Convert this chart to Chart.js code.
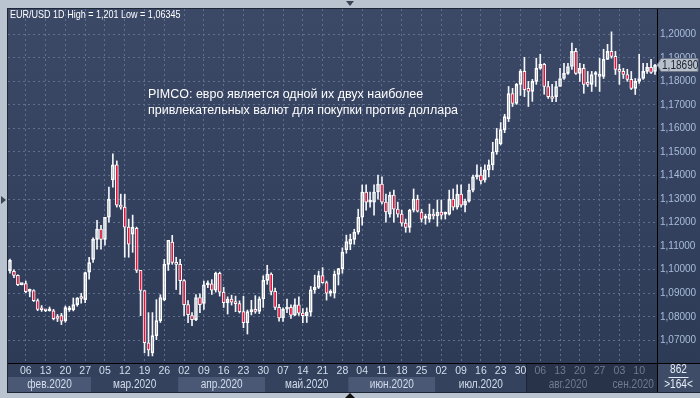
<!DOCTYPE html>
<html><head><meta charset="utf-8">
<script src="https://cdn.jsdelivr.net/npm/chart.js@4.4.0/dist/chart.umd.min.js"></script>
<style>html,body{margin:0;padding:0;background:#b9c4d0;overflow:hidden}</style>
</head><body><canvas id="c" width="700" height="398"></canvas>
<script>
// ---- data ----
const categories = [
"01-31","02-03","02-04","02-05","02-06","02-07","02-10","02-11","02-12","02-13","02-14","02-17","02-18","02-19","02-20","02-21","02-24","02-25","02-26","02-27","02-28",
"03-02","03-03","03-04","03-05","03-06","03-09","03-10","03-11","03-12","03-13","03-16","03-17","03-18","03-19","03-20","03-23","03-24","03-25","03-26","03-27","03-30","03-31",
"04-01","04-02","04-03","04-06","04-07","04-08","04-09","04-10","04-13","04-14","04-15","04-16","04-17","04-20","04-21","04-22","04-23","04-24","04-27","04-28","04-29","04-30",
"05-01","05-04","05-05","05-06","05-07","05-08","05-11","05-12","05-13","05-14","05-15","05-18","05-19","05-20","05-21","05-22","05-25","05-26","05-27","05-28","05-29",
"06-01","06-02","06-03","06-04","06-05","06-08","06-09","06-10","06-11","06-12","06-15","06-16","06-17","06-18","06-19","06-22","06-23","06-24","06-25","06-26","06-29","06-30",
"07-01","07-02","07-03","07-06","07-07","07-08","07-09","07-10","07-13","07-14","07-15","07-16","07-17","07-20","07-21","07-22","07-23","07-24","07-27","07-28","07-29","07-30","07-31",
"08-03","08-04","08-05","08-06","08-07","08-10","08-11","08-12","08-13","08-14","08-17","08-18","08-19","08-20","08-21","08-24","08-25","08-26","08-27","08-28","08-31",
"09-01","09-02","09-03","09-04","09-07","09-08","09-09","09-10","09-11","09-14","09-15","09-16"];

const open = [
1.0995,1.0993,1.0976,1.0937,1.0941,1.0908,1.0912,1.0869,1.0831,1.0830,1.0826,1.0826,1.0800,1.0805,1.0784,1.0830,1.0830,1.0852,1.0880,1.0873,1.0990,
1.1044,1.1129,1.1173,1.1129,1.1223,1.1381,1.1445,1.1274,1.1266,1.1181,1.1151,1.1176,1.0997,1.0912,1.0690,1.0647,1.0720,1.0784,1.0873,1.1023,1.1117,1.1031,
1.1023,1.0954,1.0852,1.0805,1.0788,1.0882,1.0857,1.0936,1.0940,1.0913,1.0985,1.0905,1.0860,1.0875,1.0862,1.0856,1.0822,1.0775,1.0822,1.0827,1.0823,1.0876,
1.0955,1.0982,1.0908,1.0840,1.0795,1.0833,1.0840,1.0807,1.0851,1.0816,1.0805,1.0820,1.0915,1.0925,1.0975,1.0945,1.0900,1.0900,1.0980,1.1005,1.1085,
1.1108,1.1129,1.1159,1.1223,1.1330,1.1287,1.1287,1.1330,1.1364,1.1287,1.1236,1.1317,1.1257,1.1236,1.1198,1.1180,1.1253,1.1300,1.1245,1.1219,1.1215,1.1236,
1.1228,1.1245,1.1236,1.1236,1.1300,1.1266,1.1321,1.1274,1.1291,1.1338,1.1394,1.1402,1.1381,1.1424,1.1445,1.1500,1.1535,1.1595,1.1641,1.1748,1.1706,1.1787,1.1842,
1.1770,1.1757,1.1800,1.1855,1.1872,1.1778,1.1735,1.1735,1.1778,1.1812,1.1834,1.1863,1.1927,1.1834,1.1855,1.1791,1.1787,1.1829,1.1821,1.1821,1.1893,
1.1927,1.1906,1.1851,1.1842,1.1829,1.1808,1.1770,1.1800,1.1812,1.1842,1.1859,1.1842];
const high = [
1.1045,1.1000,1.0978,1.0940,1.0952,1.0918,1.0915,1.0876,1.0848,1.0832,1.0842,1.0832,1.0810,1.0815,1.0846,1.0845,1.0880,1.0882,1.0900,1.0990,1.1053,
1.1135,1.1210,1.1189,1.1223,1.1351,1.1492,1.1462,1.1321,1.1321,1.1215,1.1232,1.1181,1.0997,1.0912,1.0818,1.0818,1.0873,1.0894,1.1044,1.1125,1.1146,1.1053,
1.1044,1.0958,1.0869,1.0818,1.0894,1.0898,1.0952,1.0953,1.0958,1.0990,1.0990,1.0925,1.0885,1.0892,1.0888,1.0868,1.0887,1.0829,1.0870,1.0890,1.0885,1.0974,
1.1019,1.0987,1.0922,1.0853,1.0838,1.0875,1.0851,1.0876,1.0885,1.0835,1.0838,1.0929,1.0977,1.0994,1.1009,1.0952,1.0915,1.0995,1.1006,1.1093,1.1147,
1.1151,1.1172,1.1257,1.1360,1.1360,1.1330,1.1360,1.1402,1.1394,1.1321,1.1330,1.1338,1.1287,1.1253,1.1215,1.1257,1.1343,1.1317,1.1257,1.1236,1.1279,1.1257,
1.1296,1.1296,1.1245,1.1338,1.1343,1.1360,1.1360,1.1300,1.1364,1.1402,1.1445,1.1436,1.1445,1.1466,1.1541,1.1600,1.1625,1.1660,1.1778,1.1770,1.1791,1.1850,1.1902,
1.1800,1.1808,1.1898,1.1915,1.1876,1.1800,1.1787,1.1800,1.1855,1.1876,1.1876,1.1962,1.1940,1.1876,1.1872,1.1842,1.1842,1.1842,1.1898,1.1936,1.1957,
1.2010,1.1927,1.1872,1.1855,1.1851,1.1842,1.1812,1.1915,1.1876,1.1876,1.1893,1.1872];
const low = [
1.0985,1.0966,1.0932,1.0935,1.0902,1.0885,1.0865,1.0826,1.0823,1.0822,1.0824,1.0787,1.0780,1.0767,1.0777,1.0823,1.0825,1.0845,1.0858,1.0860,1.0960,
1.1031,1.1087,1.1087,1.1104,1.1202,1.1351,1.1266,1.1257,1.1053,1.1053,1.1074,1.0988,1.0805,1.0647,1.0634,1.0634,1.0703,1.0776,1.0868,1.0997,1.1023,1.0916,
1.0895,1.0805,1.0775,1.0762,1.0784,1.0818,1.0832,1.0924,1.0895,1.0905,1.0888,1.0840,1.0812,1.0850,1.0822,1.0816,1.0754,1.0727,1.0808,1.0815,1.0814,1.0840,
1.0938,1.0893,1.0830,1.0782,1.0781,1.0818,1.0793,1.0805,1.0806,1.0775,1.0776,1.0803,1.0900,1.0920,1.0942,1.0871,1.0888,1.0880,1.0935,1.0985,1.1070,
1.1085,1.1108,1.1151,1.1189,1.1253,1.1266,1.1232,1.1300,1.1279,1.1202,1.1223,1.1202,1.1223,1.1185,1.1159,1.1159,1.1245,1.1245,1.1202,1.1193,1.1202,1.1215,
1.1185,1.1215,1.1215,1.1232,1.1253,1.1257,1.1266,1.1245,1.1287,1.1330,1.1385,1.1364,1.1372,1.1394,1.1424,1.1490,1.1530,1.1582,1.1629,1.1693,1.1702,1.1740,1.1735,
1.1693,1.1715,1.1787,1.1851,1.1745,1.1727,1.1714,1.1714,1.1778,1.1808,1.1829,1.1851,1.1829,1.1800,1.1749,1.1778,1.1757,1.1778,1.1757,1.1812,1.1893,
1.1898,1.1829,1.1787,1.1812,1.1800,1.1765,1.1744,1.1791,1.1808,1.1833,1.1833,1.1829];
const close = [
1.1040,1.0976,1.0937,1.0937,1.0907,1.0912,1.0869,1.0831,1.0830,1.0826,1.0830,1.0792,1.0793,1.0782,1.0839,1.0832,1.0852,1.0880,1.0878,1.0988,1.1030,
1.1129,1.1173,1.1129,1.1223,1.1300,1.1445,1.1274,1.1266,1.1181,1.1108,1.1181,1.0997,1.0912,1.0690,1.0660,1.0720,1.0784,1.0882,1.1023,1.1125,1.1031,1.1023,
1.0954,1.0852,1.0809,1.0788,1.0882,1.0852,1.0936,1.0940,1.0913,1.0985,1.0905,1.0860,1.0875,1.0862,1.0856,1.0822,1.0775,1.0822,1.0827,1.0823,1.0876,1.0955,
1.0982,1.0908,1.0840,1.0795,1.0833,1.0840,1.0807,1.0851,1.0816,1.0805,1.0820,1.0915,1.0925,1.0975,1.0945,1.0900,1.0900,1.0980,1.1005,1.1075,1.1120,
1.1129,1.1159,1.1223,1.1330,1.1287,1.1290,1.1330,1.1364,1.1287,1.1245,1.1317,1.1257,1.1236,1.1198,1.1180,1.1253,1.1300,1.1249,1.1215,1.1219,1.1236,1.1228,
1.1245,1.1232,1.1236,1.1300,1.1266,1.1321,1.1274,1.1291,1.1338,1.1394,1.1402,1.1377,1.1424,1.1445,1.1500,1.1556,1.1595,1.1650,1.1748,1.1706,1.1787,1.1842,1.1765,
1.1757,1.1800,1.1855,1.1872,1.1778,1.1735,1.1727,1.1778,1.1812,1.1834,1.1863,1.1927,1.1834,1.1855,1.1787,1.1787,1.1829,1.1830,1.1829,1.1893,1.1927,
1.1906,1.1851,1.1842,1.1829,1.1808,1.1770,1.1800,1.1812,1.1842,1.1859,1.1838,1.1869];

const yTicks = [1.07,1.08,1.09,1.10,1.11,1.12,1.13,1.14,1.15,1.16,1.17,1.18,1.19,1.20];
const weekTicks = ["02-06","02-13","02-20","02-27","03-05","03-12","03-19","03-26","04-02","04-09","04-16","04-23","04-30",
"05-07","05-14","05-21","05-28","06-04","06-11","06-18","06-25","07-02","07-09","07-16","07-23","07-30","08-06","08-13","08-20","08-27","09-03","09-10"];
const months = [["02","фев.2020"],["03","мар.2020"],["04","апр.2020"],["05","май.2020"],["06","июн.2020"],["07","июл.2020"],["08","авг.2020"],["09","сен.2020"]];
const dimFrom = "08-03";
const titleText = "EUR/USD 1D High = 1,201 Low = 1,06345";
const noteLines = ["PIMCO: евро является одной их двух наиболее","привлекательных валют для покупки против доллара"];
const lastPrice = 1.18690;
const barsInfo = ["862", ">164<"];
const yMin = 1.0604, yMax = 1.2107;

// ---- styling ----
const SANS = '"Liberation Sans",Arial,sans-serif';
const RED = '#e3143c';
const dimIndex = categories.indexOf(dimFrom);
const isWeek = i => weekTicks.includes(categories[i]);

const bodies = categories.map((_, i) => [Math.min(open[i], close[i]), Math.max(open[i], close[i])]);
const upWick = categories.map((_, i) => [Math.max(open[i], close[i]), high[i]]);
const loWick = categories.map((_, i) => [low[i], Math.min(open[i], close[i])]);

function narrowText(ctx, txt, x, y, align, size, k) {
  ctx.save();
  ctx.font = size + 'px ' + SANS;
  ctx.textBaseline = 'middle';
  ctx.textAlign = 'left';
  k = k || 0.84;
  const w = ctx.measureText(txt).width * k;
  let x0 = x;
  if (align === 'center') x0 = x - w / 2;
  if (align === 'right') x0 = x - w;
  ctx.translate(x0, y);
  ctx.scale(k, 1);
  ctx.fillText(txt, 0, 0);
  ctx.restore();
}

const deco = {
  id: 'deco',
  beforeDraw(chart) {
    const {ctx, chartArea: a, scales: {x}} = chart;
    const W = chart.width, H = chart.height;
    ctx.save();
    ctx.fillStyle = '#b9c4d0'; ctx.fillRect(0, 0, W, H);
    const g = ctx.createLinearGradient(0, a.top, 0, a.bottom);
    g.addColorStop(0, '#3b4967'); g.addColorStop(1, '#2d3b57');
    ctx.fillStyle = g; ctx.fillRect(a.left, a.top, W - a.left, a.bottom - a.top);
    ctx.fillStyle = '#33415d'; ctx.fillRect(a.left, a.bottom, W - a.left, 29);
    const step = x.getPixelForValue(1) - x.getPixelForValue(0);
    const mid = a.bottom + 14;
    months.forEach(([m], k) => {
      const idx = categories.map((c, i) => c.startsWith(m) ? i : -1).filter(i => i >= 0);
      let l = x.getPixelForValue(idx[0]) - step / 2, r = x.getPixelForValue(idx[idx.length - 1]) + step / 2;
      if (k === 0) l = a.left;
      ctx.fillStyle = k % 2 === 0 ? '#4a5875' : '#34425e';
      ctx.fillRect(l, mid, r - l, 15);
    });
    const dl = x.getPixelForValue(dimIndex) - step / 2;
    ctx.fillStyle = '#28334a'; ctx.fillRect(dl, a.bottom, a.right - dl, 29);
    ctx.fillStyle = '#1c2536'; ctx.fillRect(Math.round(dl), a.bottom, 1, 29);
    ctx.fillStyle = '#3e4c68'; ctx.fillRect(a.right, a.bottom, W - a.right, 29);
    ctx.restore();
  },
  afterDraw(chart) {
    const {ctx, chartArea: a, scales: {x, y}} = chart;
    const W = chart.width;
    ctx.save();
    ctx.fillStyle = '#000';
    ctx.fillRect(a.right, a.top, 1, a.bottom - a.top + 29);
    ctx.fillRect(a.left, a.bottom, W - a.left, 1);
    ctx.fillStyle = '#1d2737';
    ctx.fillRect(a.left - 1, a.top - 1, W - a.left + 1, 1);
    ctx.fillRect(a.left - 1, a.top - 1, 1, a.bottom - a.top + 31);
    ctx.fillRect(a.left - 1, a.bottom + 29, W - a.left + 1, 1);
    const step = x.getPixelForValue(1) - x.getPixelForValue(0);
    months.forEach(([m, name], k) => {
      const idx = categories.map((c, i) => c.startsWith(m) ? i : -1).filter(i => i >= 0);
      let l = x.getPixelForValue(idx[0]) - step / 2, r = x.getPixelForValue(idx[idx.length - 1]) + step / 2;
      if (k === 0) l = a.left;
      ctx.fillStyle = idx[0] >= dimIndex ? '#6e7b91' : '#d3ddeb';
      narrowText(ctx, name, (l + r) / 2, a.bottom + 22, 'center', 12);
    });
    ctx.fillStyle = '#e6ecf5';
    const bx = (a.right + W) / 2;
    narrowText(ctx, barsInfo[0], bx, a.bottom + 7, 'center', 12);
    ctx.fillRect(bx - 10, a.bottom + 14, 20, 1);
    narrowText(ctx, barsInfo[1], bx, a.bottom + 22, 'center', 12);
    ctx.fillStyle = '#ffffff';
    narrowText(ctx, titleText, a.left + 2, a.top + 6, 'left', 11, 0.82);
    ctx.font = '12.5px ' + SANS; ctx.textAlign = 'left'; ctx.textBaseline = 'middle';
    ctx.fillText(noteLines[0], 148, 95);
    ctx.fillText(noteLines[1], 148, 111);
    const py = y.getPixelForValue(lastPrice);
    ctx.beginPath();
    ctx.moveTo(a.right, py); ctx.lineTo(a.right + 4, py - 6.5); ctx.lineTo(W - 2, py - 6.5);
    ctx.lineTo(W - 2, py + 6.5); ctx.lineTo(a.right + 4, py + 6.5); ctx.closePath();
    ctx.fillStyle = '#b8c0cb'; ctx.fill();
    ctx.strokeStyle = '#6d7788'; ctx.lineWidth = 1; ctx.stroke();
    ctx.fillStyle = '#1b2231';
    narrowText(ctx, lastPrice.toFixed(5).replace('.', ','), a.right + 5, py + 0.5, 'left', 12);
    ctx.fillStyle = '#3a4656';
    ctx.beginPath(); ctx.moveTo(346, 1); ctx.lineTo(354, 1); ctx.lineTo(350, 6); ctx.closePath(); ctx.fill();
    ctx.beginPath(); ctx.moveTo(1, 196); ctx.lineTo(1, 204); ctx.lineTo(6, 200); ctx.closePath(); ctx.fill();
    ctx.fillStyle = '#111';
    ctx.beginPath(); ctx.moveTo(345, 398); ctx.lineTo(355, 398); ctx.lineTo(350, 393); ctx.closePath(); ctx.fill();
    ctx.restore();
  }
};

new Chart(document.getElementById('c'), {
  type: 'bar',
  data: {
    labels: categories,
    datasets: [
      { data: bodies, grouped: false, order: 0, barThickness: 3, minBarLength: 2,
        backgroundColor: categories.map((_, i) => close[i] < open[i] ? RED : 'rgba(0,0,0,0)'),
        borderColor: '#ffffff', borderWidth: 1, borderSkipped: false },
      { data: upWick, grouped: false, order: 1, barThickness: 1, backgroundColor: '#f4f6fa', borderWidth: 0 },
      { data: loWick, grouped: false, order: 1, barThickness: 1, backgroundColor: '#f4f6fa', borderWidth: 0 }
    ]
  },
  options: {
    responsive: false, animation: false, events: [],
    layout: { padding: { left: 8, top: 8, right: 0, bottom: 6 } },
    plugins: { legend: { display: false }, tooltip: { enabled: false } },
    scales: {
      x: {
        type: 'category', offset: true,
        grid: { offset: false, drawTicks: false, lineWidth: 1,
          color: c => isWeek(c.index) ? '#5f6f8e' : 'rgba(0,0,0,0)' },
        border: { display: false, dash: [2, 3] },
        ticks: { autoSkip: false, maxRotation: 0, minRotation: 0, padding: 2,
          font: { family: SANS, size: 10.5 },
          color: c => c.index >= dimIndex ? '#6e7b91' : '#d3ddeb',
          callback: (v, i) => isWeek(i) ? categories[i].slice(3) : '' },
        afterFit(s) { s.height = 29; }
      },
      y: {
        position: 'right', min: yMin, max: yMax,
        afterBuildTicks(s) { s.ticks = yTicks.map(v => ({ value: v })); },
        grid: { color: '#5f6f8e', drawTicks: false, lineWidth: 1 },
        border: { display: false, dash: [2, 3] },
        ticks: { padding: 3, color: '#a8bdd9', font: { family: SANS, size: 10 },
          callback: v => v.toFixed(5).replace('.', ',') },
        afterFit(s) { s.width = 43; }
      }
    }
  },
  plugins: [deco]
});
</script>
</body></html>
